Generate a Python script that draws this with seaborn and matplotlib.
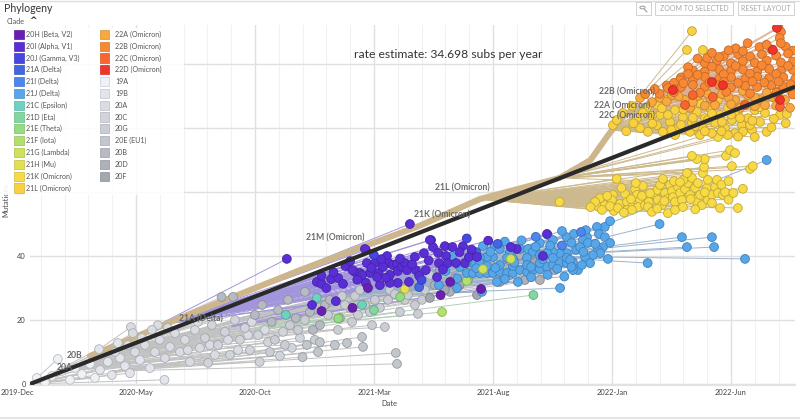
import matplotlib
matplotlib.use("Agg")
import matplotlib.pyplot as plt
import matplotlib.colors as mcolors
from matplotlib.collections import LineCollection
from matplotlib.patches import Rectangle, Circle
from matplotlib.lines import Line2D
import seaborn as sns
import pandas as pd

sns.set_style("white")
plt.rcParams["font.family"] = ["Lato", "DejaVu Sans"]

# ---------------- data (x = months since 2019-12-01, y = mutations) ----------------
month_ticks = [5, 10, 15, 20, 25, 30]
month_labels = ["2020-May", "2020-Oct", "2021-Mar", "2021-Aug", "2022-Jan", "2022-Jun"]
first_tick = 0
first_label = "2019-Dec"
mut_ticks = [0, 20, 40, 60, 80, 100]

rate_x = [0.55, 32.69]
rate_y = [0.0, 92.9]
rate_text = "rate estimate: 34.698 subs per year"

trunk_x = [3.07, 6.85, 11.9, 16.9, 19.45, 22.8, 24.1, 24.9, 25.55, 26.6]
trunk_y = [8.75, 20.6, 35.6, 49.4, 57.8, 64.4, 70.0, 78.4, 84.1, 87.8]

tips_19A = [(0.84, 1.9), (1.18, 0.6), (1.47, 2.5), (1.72, 7.8), (1.89, 4.1), (2.23, 1.3),
            (2.44, 5.0), (2.73, 3.1), (3.07, 6.3), (3.28, 1.9)]
tips_19B = [(3.45, 10.9), (3.49, 4.4), (3.82, 6.9), (3.99, 2.8), (4.24, 12.8), (4.33, 8.1),
            (4.54, 5.6), (4.75, 3.4), (5.17, 7.5), (5.59, 5.0), (6.2, 1.3)]
tips_20A = [(4.79, 17.8), (4.87, 15.9), (4.96, 10.0), (5.38, 12.2), (5.8, 10.0), (5.92, 18.4),
            (6.0, 13.8), (6.22, 8.1), (6.43, 11.6), (6.64, 15.9), (6.85, 10.0), (7.06, 13.8),
            (7.27, 6.9), (7.48, 16.9), (7.69, 11.3)]
tips_20A2 = [(4.12, 10.0), (4.66, 12.2), (5.25, 14.4), (5.67, 16.9), (6.34, 17.5), (7.18, 10.6),
             (7.6, 19.4), (8.11, 12.2), (8.32, 9.1), (8.87, 13.8), (9.29, 10.6), (9.71, 15.3),
             (9.87, 19.4), (10.42, 16.9)]
tips_20C = [(7.9, 14.4), (8.03, 6.6), (8.19, 18.4), (8.45, 12.2), (8.74, 16.3), (8.95, 9.1),
            (9.16, 20.0), (9.37, 13.8), (9.58, 17.5), (9.79, 10.6), (10.13, 15.3), (10.55, 13.1),
            (11.18, 16.3), (11.55, 11.3), (11.89, 14.4), (10.2, 6.9), (11.05, 8.8)]
tips_20B = [(8.6, 27.2), (9.08, 27.2), (10.0, 21.6), (10.3, 24.7), (10.7, 19.4), (10.97, 23.1),
            (11.39, 26.3), (11.72, 20.6), (12.1, 28.8), (12.31, 22.5), (12.44, 16.9), (12.73, 18.4),
            (12.94, 24.7), (13.15, 26.3), (13.57, 20.6)]
tips_20G = [(13.66, 27.5), (13.99, 23.8), (14.2, 27.5), (14.41, 29.4), (14.62, 24.7), (15.04, 26.3),
            (15.25, 23.8), (15.46, 17.8), (15.67, 29.4), (15.88, 28.1), (16.3, 26.3), (16.51, 31.6),
            (16.85, 21.9), (17.14, 29.4), (17.35, 34.1)]
tips_20G2 = [(10.63, 10.0), (10.84, 13.8), (11.26, 12.2), (11.47, 18.4), (11.81, 16.9), (12.1, 20.0),
             (12.52, 13.8), (13.07, 21.6), (13.49, 16.9), (13.78, 24.7), (14.08, 19.4), (14.33, 21.6),
             (14.83, 22.5), (14.92, 18.4), (15.59, 26.3), (16.09, 22.5), (16.43, 27.8), (16.72, 24.7),
             (17.02, 26.3)]
tips_20E = [(12.18, 12.2), (12.65, 10.0), (13.36, 12.2), (13.87, 12.8), (14.5, 14.7), (14.54, 11.6),
            (15.92, 9.7), (15.97, 6.3), (12.0, 8.4), (12.73, 13.1)]
tips_20D = [(17.77, 35.6), (18.4, 33.1), (19.03, 37.2), (19.87, 38.1), (20.5, 36.3), (21.13, 40.3)]
tips_20D2 = [(17.56, 30.9), (18.19, 28.8), (18.95, 32.5), (19.66, 35.6), (20.71, 34.1), (21.34, 32.5),
             (21.97, 32.5), (22.6, 35.6)]
tips_20F = [(21.76, 38.1), (22.39, 41.9), (17.98, 29.4), (18.6, 30.9), (20.29, 31.9), (17.35, 26.9),
            (19.33, 27.8)]

tips_20I = [(12.6, 31.9), (12.8, 31.3), (13.2, 32.8), (13.5, 33.1), (13.87, 36.9), (14.2, 35.0),
            (14.41, 34.7), (14.66, 41.9), (14.7, 37.8), (14.83, 34.7), (15.04, 37.8), (15.2, 34.7),
            (15.55, 40.0), (15.63, 37.8), (15.67, 34.1), (15.8, 37.2), (15.97, 37.5), (16.0, 35.3),
            (16.18, 36.6), (16.3, 37.8), (16.39, 35.6), (16.72, 39.7), (16.76, 35.6), (17.1, 40.9),
            (17.18, 35.6), (17.4, 45.0), (17.48, 42.8), (17.65, 33.4), (17.73, 37.8), (17.98, 43.1),
            (18.03, 40.0), (18.1, 37.8), (18.3, 42.8), (18.45, 37.8), (18.74, 43.1), (18.82, 37.8),
            (18.99, 39.7), (19.33, 39.7), (16.47, 31.9), (16.0, 31.6), (15.67, 31.6), (15.25, 30.9),
            (15.13, 33.4), (14.5, 34.1), (14.66, 31.6), (15.38, 36.6), (11.34, 39.1), (14.62, 42.2),
            (16.51, 50.0), (17.35, 45.0), (12.8, 33.8), (13.8, 36.9), (14.1, 35.6), (22.27, 46.9),
            (22.1, 40.0), (21.0, 42.2), (20.75, 42.8), (13.4, 25.9), (12.4, 24.7),
            (13.0, 30.0), (13.7, 31.3), (14.3, 32.6), (14.9, 36.3), (15.5, 33.2), (16.1, 39.2),
            (16.6, 37.4), (16.9, 33.8), (17.3, 38.6), (17.9, 35.8), (18.6, 41.2), (17.7, 41.0),
            (15.3, 39.0), (14.0, 38.4), (13.3, 34.9), (19.1, 42.0), (19.8, 44.8)]
tips_20H = [(14.75, 30.0), (14.1, 23.8), (12.8, 22.8), (17.8, 27.8), (19.5, 29.7), (18.2, 31.9)]
tips_20J = [(15.0, 40.3), (18.9, 45.5), (17.0, 32.5)]
tips_21A = [(20.2, 43.8), (19.3, 41.2), (16.9, 30.3)]
tips_21I = [(21.8, 46.0), (22.9, 43.3), (23.7, 47.5)]
tips_21C = [(12.6, 26.9), (14.5, 24.7), (11.3, 21.6)]
tips_21D = [(21.7, 27.8), (15.0, 23.1)]
tips_21E = [(13.5, 20.5), (16.1, 27.2)]
tips_21F = [(17.86, 22.5), (18.9, 32.2)]
tips_21G = [(20.75, 39.1), (19.58, 35.9)]
tips_21H = [(16.3, 29.7), (22.0, 37.0)]

tips_21J = [(18.28, 40.0), (19.58, 43.1), (20.08, 43.1), (20.29, 42.2), (20.71, 41.3), (21.13, 42.2),
            (21.47, 42.2), (21.68, 41.3), (21.97, 44.1), (22.3, 46.6), (22.52, 45.0), (23.1, 45.9),
            (23.3, 44.1), (23.5, 41.9), (23.57, 35.6), (23.36, 35.6), (23.1, 40.9), (22.8, 40.9),
            (22.52, 41.3), (22.27, 40.9), (21.97, 40.3), (21.43, 39.4), (20.84, 39.1), (20.59, 39.4),
            (20.0, 39.7), (19.75, 39.7), (19.45, 39.4), (19.16, 37.8), (18.9, 37.8), (18.61, 36.6),
            (18.9, 34.7), (19.16, 34.7), (19.45, 34.7), (19.75, 34.7), (20.0, 34.7), (20.29, 35.0),
            (20.59, 34.7), (20.84, 34.7), (21.13, 35.6), (21.43, 35.0), (21.68, 35.6), (21.97, 35.9),
            (22.27, 36.6), (22.52, 37.2), (22.8, 37.8), (23.1, 37.8), (23.36, 38.1), (19.45, 37.8),
            (19.75, 36.9), (20.29, 37.2), (20.84, 36.9), (21.43, 37.2), (21.97, 37.8), (22.52, 39.4),
            (23.1, 39.4), (20.17, 31.9), (21.05, 31.9), (19.54, 28.8), (18.49, 30.0), (22.82, 30.0),
            (17.73, 30.9), (24.7, 49.1), (24.37, 49.1), (24.45, 46.9), (24.7, 45.9), (24.92, 44.1),
            (24.62, 42.8), (24.41, 41.9), (24.5, 40.9), (24.2, 40.3), (23.95, 45.9), (23.78, 45.0),
            (23.99, 44.1), (23.66, 42.8), (23.87, 39.7), (24.08, 37.8), (23.74, 37.2), (23.24, 38.8),
            (19.1, 41.0), (19.9, 41.3), (20.5, 44.5), (21.2, 44.9), (21.8, 42.9), (22.4, 43.3),
            (22.9, 47.8), (23.4, 46.9), (23.9, 48.1), (19.3, 36.2), (20.1, 36.3), (20.9, 37.9),
            (21.6, 36.6), (22.1, 39.0), (22.7, 36.0), (23.3, 36.6), (23.8, 41.3), (24.3, 43.8),
            (20.5, 32.8), (21.6, 33.4), (22.3, 34.1), (23.0, 33.6), (18.0, 35.3), (18.5, 33.0)]
tips_21J_far = [(24.92, 50.9), (27.0, 50.0), (27.94, 45.9), (29.2, 45.9), (28.15, 42.8), (29.29, 42.8),
                (30.59, 39.1), (31.5, 70.0), (26.5, 37.8), (24.83, 39.1)]

tips_21K = [(24.45, 55.3), (24.7, 55.9), (25.04, 59.1), (25.0, 57.5), (25.2, 64.1), (25.08, 54.1),
            (25.34, 56.3), (25.55, 59.4), (25.63, 56.9), (25.84, 55.3), (25.97, 60.9), (26.05, 59.1),
            (26.18, 57.5), (26.1, 55.3), (26.39, 55.9), (26.47, 58.1), (26.55, 56.9), (26.8, 59.1),
            (26.9, 60.6), (26.93, 57.5), (27.02, 62.2), (27.1, 55.9), (27.14, 64.1), (27.23, 59.7),
            (27.31, 57.8), (27.35, 53.4), (27.44, 62.2), (27.52, 60.3), (27.56, 58.4), (27.65, 56.9),
            (27.65, 54.4), (27.77, 61.6), (27.86, 59.7), (27.94, 57.5), (27.98, 55.3), (28.07, 60.9),
            (28.19, 62.8), (28.19, 65.9), (28.28, 59.1), (28.36, 64.4), (28.49, 61.3), (28.57, 56.9),
            (28.61, 62.8), (28.7, 59.1), (28.78, 55.9), (28.82, 65.9), (28.87, 67.8), (28.99, 61.3),
            (29.03, 63.8), (29.03, 57.5), (29.2, 59.1), (29.33, 61.6), (29.41, 63.8), (29.45, 59.7),
            (29.66, 59.1), (29.75, 60.0), (29.54, 55.0), (30.29, 55.0), (24.5, 58.1), (24.29, 56.9),
            (24.58, 54.4), (24.92, 55.6), (25.25, 55.0), (25.63, 54.4), (25.84, 54.4), (26.51, 55.3),
            (26.68, 53.8), (26.26, 58.8), (22.8, 56.9),
            (24.8, 58.8), (25.4, 61.3), (25.8, 57.8), (26.3, 61.9), (26.6, 59.6), (26.9, 54.8),
            (27.2, 57.2), (27.6, 63.4), (28.0, 63.8), (28.3, 57.8), (28.5, 54.6), (28.9, 59.9),
            (29.2, 56.6), (29.6, 62.3), (29.9, 57.6), (30.1, 59.7), (30.5, 61.0), (29.9, 63.4),
            (26.0, 62.8), (25.5, 53.6), (24.1, 55.3)]
tips_21K_up = [(30.04, 68.1), (29.79, 71.3), (29.96, 73.1), (30.17, 72.2), (30.8, 67.2), (30.92, 68.1),
               (28.9, 70.3), (28.57, 70.3), (28.36, 71.3), (28.15, 65.9), (27.86, 63.1), (29.45, 77.2),
               (30.29, 78.1), (29.66, 79.4)]

tips_21L = [(25.04, 80.9), (25.2, 82.5), (25.46, 84.7), (26.05, 83.1), (26.47, 86.3), (26.51, 78.8),
            (26.89, 80.9), (26.89, 87.2), (27.02, 84.1), (27.14, 78.8), (27.31, 88.8), (27.44, 81.9),
            (27.65, 85.6), (27.77, 80.0), (27.98, 83.4), (28.15, 87.5), (28.28, 78.8), (28.36, 81.6),
            (28.57, 85.0), (28.7, 87.8), (28.82, 80.0), (28.91, 83.1), (29.12, 86.3), (29.2, 78.4),
            (29.33, 81.6), (29.45, 88.8), (29.54, 84.1), (29.75, 80.0), (29.87, 86.3), (30.04, 82.5),
            (30.17, 78.4), (30.29, 85.0), (30.46, 80.9), (30.59, 87.5), (30.71, 83.1), (30.88, 79.4),
            (31.0, 85.6), (31.22, 81.9), (31.43, 84.7), (31.5, 78.8), (32.06, 84.1), (32.35, 84.4),
            (26.18, 80.0), (25.84, 86.9), (26.68, 83.8), (27.35, 84.1), (28.49, 80.6), (29.03, 82.5),
            (29.62, 81.9), (30.38, 83.1), (30.8, 80.9), (29.87, 77.8), (28.7, 77.8), (27.65, 77.8),
            (25.6, 79.0), (25.9, 81.5), (26.3, 84.8), (26.7, 81.4), (27.1, 86.2), (27.5, 79.4),
            (27.9, 81.0), (28.0, 85.8), (28.4, 83.2), (28.9, 79.0), (29.2, 84.5), (29.6, 79.0),
            (30.0, 84.2), (30.5, 78.9), (30.9, 82.3), (31.2, 86.5), (31.7, 80.2), (31.8, 82.9),
            (32.3, 81.5), (31.0, 77.2), (30.3, 77.3)]
tips_21L_far = [(28.36, 110.3), (28.15, 104.4), (28.82, 104.4)]

tips_22A = [(27.02, 89.4), (27.52, 90.3), (28.07, 88.8), (28.61, 90.0), (29.12, 89.4), (29.62, 90.6),
            (30.17, 88.8), (30.71, 90.3), (31.22, 88.8), (31.72, 89.7), (32.27, 88.8), (28.28, 86.3),
            (30.38, 86.3), (31.43, 87.2), (32.48, 86.3), (29.33, 87.2), (31.97, 91.3), (26.68, 88.1),
            (26.18, 89.4), (27.3, 88.3), (27.8, 89.9), (28.4, 88.1), (29.0, 90.8), (29.9, 89.6),
            (30.5, 91.6), (31.0, 89.6), (31.5, 91.0), (32.0, 89.6), (32.5, 91.8), (28.9, 87.0),
            (30.0, 87.4), (31.0, 86.8), (31.9, 87.0)]

tips_22B = [(31.2, 105.3), (31.7, 104.6), (32.3, 105.4), (32.6, 104.2),
            (29.7, 102.5), (30.3, 103.1), (30.8, 102.4), (31.3, 103.0), (31.9, 102.6), (32.4, 103.3),
            (28.9, 100.3), (29.4, 101.0), (30.0, 100.2), (30.5, 100.9), (31.0, 100.4), (31.5, 101.1),
            (32.1, 100.5), (32.6, 100.8),
            (28.4, 98.0), (28.9, 97.6), (29.5, 98.4), (30.0, 97.8), (30.5, 98.3), (31.1, 97.7),
            (31.6, 98.5), (32.1, 97.9), (32.6, 98.2),
            (27.9, 95.8), (28.4, 95.2), (28.9, 96.0), (29.5, 95.4), (30.0, 95.9), (30.6, 95.3),
            (31.1, 96.1), (31.6, 95.5), (32.2, 95.9), (32.7, 95.4),
            (27.3, 93.3), (27.9, 92.8), (28.4, 93.5), (28.9, 92.9), (29.5, 93.4), (30.0, 92.7),
            (30.6, 93.2), (31.1, 92.8), (31.7, 93.4), (32.2, 92.9),
            (27.0, 90.7), (27.6, 91.2), (28.7, 91.0), (29.8, 91.3), (30.8, 90.8), (31.9, 91.1),
            (32.6, 90.5), (32.0, 111.3), (32.1, 110.0), (32.05, 108.1), (29.0, 101.9), (29.5, 102.2),
            (27.86, 95.0), (27.6, 94.1), (27.35, 92.5), (26.4, 90.6), (26.8, 92.2), (30.7, 106.5),
            (30.2, 104.9),
            (28.2, 99.0), (28.6, 96.6), (29.2, 99.2), (29.7, 96.8), (30.2, 99.4), (30.8, 97.0),
            (31.3, 99.6), (31.9, 96.9), (32.4, 99.4), (29.1, 94.2), (29.7, 94.4), (30.3, 94.1),
            (30.9, 94.6), (31.4, 94.2), (32.0, 94.5), (32.5, 93.7), (29.9, 104.3), (30.5, 104.0),
            (31.5, 106.0), (32.1, 106.5), (29.2, 103.5), (28.6, 101.7), (28.2, 96.9), (28.0, 94.0),
            (27.6, 92.2)]
tips_22C = [(28.4, 90.3), (29.24, 89.7), (28.07, 87.2), (32.06, 86.6), (30.59, 87.2)]
tips_22D = [(27.56, 91.9), (31.76, 104.4), (32.06, 88.8), (29.66, 93.4), (29.2, 94.4), (31.93, 111.3)]

# parent node of each group of tips
par_root = (0.55, 0.0)
par_20A_node = (2.2, 4.4)
par_20B_node = (3.0, 8.5)
par_20G_node = (6.0, 14.0)
par_20E_node = (4.0, 4.0)
par_20D_node = (9.0, 20.0)
par_20F_node = (9.0, 18.0)
par_alpha = (5.95, 18.5)
par_beta = (9.0, 18.0)
par_gamma = (7.5, 20.0)
par_delta = (13.0, 27.0)
par_delta_far = (21.5, 40.0)
par_minor = (10.0, 17.0)
par_21K = (19.45, 57.8)
par_21K_up = (22.8, 64.4)
par_21L = (24.9, 79.4)
par_21L_far = (25.55, 84.1)
par_22A = (25.55, 84.1)
par_22B = (26.6, 87.8)
par_22C = (26.0, 86.0)

clade_colors = {
    "20H (Beta, V2)": "#6A1FB3", "20I (Alpha, V1)": "#5A2ED6", "20J (Gamma, V3)": "#4646E0",
    "21A (Delta)": "#4566E0", "21I (Delta)": "#4C86EE", "21J (Delta)": "#56A6EA",
    "21C (Epsilon)": "#6FD2C0", "21D (Eta)": "#80D8A0", "21E (Theta)": "#92DC82",
    "21F (Iota)": "#B2E06C", "21G (Lambda)": "#CDE256", "21H (Mu)": "#E2E050",
    "21K (Omicron)": "#F7DA45", "21L (Omicron)": "#F8D040",
    "22A (Omicron)": "#F9A83F", "22B (Omicron)": "#F98835", "22C (Omicron)": "#F96431",
    "22D (Omicron)": "#F2332A",
    "19A": "#EEF2F6", "19B": "#E2E6EC", "20A": "#D9DDE3", "20C": "#D1D5DB", "20G": "#CACED4",
    "20E (EU1)": "#C2C6CD", "20B": "#B6BAC2", "20D": "#ADB1B9", "20F": "#A3A7B0",
}
legend_col1 = ["20H (Beta, V2)", "20I (Alpha, V1)", "20J (Gamma, V3)", "21A (Delta)", "21I (Delta)",
               "21J (Delta)", "21C (Epsilon)", "21D (Eta)", "21E (Theta)", "21F (Iota)",
               "21G (Lambda)", "21H (Mu)", "21K (Omicron)", "21L (Omicron)"]
legend_col2 = ["22A (Omicron)", "22B (Omicron)", "22C (Omicron)", "22D (Omicron)", "19A", "19B",
               "20A", "20C", "20G", "20E (EU1)", "20B", "20D", "20F"]

branch_gray = "#C2C2C2"
branch_purple = "#A295DC"
branch_blue = "#9CB2CC"
branch_green = "#B2D0B6"
branch_tan = "#CDB98E"
branch_orange = "#DAAF92"

# draw order: (clade, tips, parent, branch colour)
groups = [
    ("19A", tips_19A, par_root, branch_gray),
    ("19B", tips_19B, par_root, branch_gray),
    ("20A", tips_20A, par_20A_node, branch_gray),
    ("20A", tips_20A2, par_20A_node, branch_gray),
    ("20C", tips_20C, par_20A_node, branch_gray),
    ("20B", tips_20B, par_20B_node, branch_gray),
    ("20G", tips_20G, par_20G_node, branch_gray),
    ("20G", tips_20G2, par_20B_node, branch_gray),
    ("20E (EU1)", tips_20E, par_20E_node, branch_gray),
    ("20D", tips_20D, par_20D_node, branch_gray),
    ("20D", tips_20D2, par_20D_node, branch_gray),
    ("20F", tips_20F, par_20F_node, branch_gray),
    ("21C (Epsilon)", tips_21C, par_minor, branch_green),
    ("21D (Eta)", tips_21D, par_minor, branch_green),
    ("21E (Theta)", tips_21E, par_minor, branch_green),
    ("21F (Iota)", tips_21F, par_minor, branch_green),
    ("21H (Mu)", tips_21H, par_minor, branch_green),
    ("21J (Delta)", tips_21J, par_delta, branch_blue),
    ("21J (Delta)", tips_21J_far, par_delta_far, branch_blue),
    ("21A (Delta)", tips_21A, par_delta, branch_blue),
    ("21I (Delta)", tips_21I, par_delta, branch_blue),
    ("21G (Lambda)", tips_21G, par_delta, branch_green),
    ("20I (Alpha, V1)", tips_20I, par_alpha, branch_purple),
    ("20H (Beta, V2)", tips_20H, par_beta, branch_purple),
    ("20J (Gamma, V3)", tips_20J, par_gamma, branch_purple),
    ("21K (Omicron)", tips_21K, par_21K, branch_tan),
    ("21K (Omicron)", tips_21K_up, par_21K_up, branch_tan),
    ("21L (Omicron)", tips_21L, par_21L, branch_tan),
    ("21L (Omicron)", tips_21L_far, par_21L_far, branch_tan),
    ("22A (Omicron)", tips_22A, par_22A, branch_orange),
    ("22B (Omicron)", tips_22B, par_22B, branch_orange),
    ("22C (Omicron)", tips_22C, par_22C, branch_orange),
    ("22D (Omicron)", tips_22D, par_22C, branch_orange),
]

clade_labels = ["22B (Omicron)", "22A (Omicron)", "22C (Omicron)", "21L (Omicron)",
                "21K (Omicron)", "21M (Omicron)", "21A (Delta)", "20B", "20A"]
clade_label_x = [26.8, 26.6, 26.8, 19.87, 19.03, 14.62, 8.66, 2.75, 2.35]
clade_label_y = [91.3, 86.9, 83.8, 61.3, 52.8, 45.6, 20.3, 8.8, 5.3]

# ---------------- figure ----------------
W, H = 800, 420
fig = plt.figure(figsize=(8.0, 4.2), dpi=100)
fig.patch.set_facecolor("white")


def fx(px):
    return px / W


def fy(py):
    return 1 - py / H


ax = fig.add_axes([fx(30), fy(385), fx(795) - fx(30), fy(25) - fy(385)])
ax.set_xlim(0.55, 32.69)
ax.set_ylim(-0.31, 112.2)

# branches
segs, seg_cols = [], []
for clade, tips, par, bcol in groups:
    for t in tips:
        segs.append([par, t])
        seg_cols.append(bcol)
ax.add_collection(LineCollection(segs, colors=seg_cols, linewidths=0.7, zorder=2))

# omicron trunk
ax.plot(trunk_x, trunk_y, color="#CDB68B", lw=4.4, solid_capstyle="round",
        solid_joinstyle="round", zorder=2.5)

# tips
rows = []
for clade, tips, par, bcol in groups:
    for (mx, my) in tips:
        rows.append({"month": mx, "mutations": my, "clade": clade})
df = pd.DataFrame(rows)
sns.scatterplot(data=df, x="month", y="mutations", hue="clade", palette=clade_colors,
                s=40, linewidth=0.6, legend=False, ax=ax, zorder=4)


def darker(c, f=0.78):
    r, g, b = mcolors.to_rgb(c)
    return (r * f, g * f, b * f)


coll = ax.collections[-1]
coll.set_edgecolors([darker(clade_colors[c]) for c in df["clade"]])

# regression line
ax.plot(rate_x, rate_y, color="#2A2A2A", lw=3.0, solid_capstyle="butt", zorder=6)

# clade labels
for lab, lx, ly in zip(clade_labels, clade_label_x, clade_label_y):
    ax.text(lx, ly, lab, ha="right", va="center", fontsize=6.2, color="#6A6A6A",
            fontweight="bold", zorder=7)

# axes styling
ax.set_xticks(month_ticks)
ax.set_xticklabels(month_labels)
ax.set_xticks(list(range(1, 33)), minor=True)
ax.set_yticks(mut_ticks)
ax.set_yticklabels([str(v) for v in mut_ticks])
ax.tick_params(axis="both", which="both", length=0, labelsize=5.4, colors="#444444", pad=3)
ax.grid(which="major", axis="both", color="#E0E0E0", lw=1.0)
ax.grid(which="minor", axis="x", color="#F1F1F1", lw=0.8)
ax.set_axisbelow(True)
for side in ["left", "right", "top"]:
    ax.spines[side].set_visible(False)
ax.spines["bottom"].set_color("#E2E2E2")
ax.spines["bottom"].set_linewidth(1.5)
ax.set_xlabel("")
ax.set_ylabel("")
ax.annotate(first_label, xy=(first_tick, 0), xycoords=("data", "axes fraction"),
            xytext=(0, -3), textcoords="offset points", ha="center", va="top",
            fontsize=5.4, color="#444444", annotation_clip=False)

# texts around the plot
fig.text(fx(448), fy(55), rate_text, ha="center", va="center", fontsize=8.7, color="#333333")
fig.text(fx(389), fy(404), "Date", ha="center", va="center", fontsize=5.4, color="#444444")
fig.text(fx(6), fy(200), "Mutations", rotation=90, ha="center", va="center",
         fontsize=5.4, color="#444444", zorder=1)

# header
fig.add_artist(Line2D([0, 1], [fy(1), fy(1)], color="#DDDDDD", lw=1.0))
fig.text(fx(4), fy(9), "Phylogeny", ha="left", va="center", fontsize=7.6, color="#333333")
fig.text(fx(7), fy(21), "Clade", ha="left", va="center", fontsize=5.2, color="#555555")
fig.text(fx(29), fy(20.5), "^", ha="left", va="center", fontsize=6.5, color="#222222",
         fontweight="bold", family="DejaVu Sans")
fig.add_artist(Line2D([0, 1], [fy(418), fy(418)], color="#E4E4E4", lw=1.5))

# buttons
btn_edge = "#D2D2D2"
fig.add_artist(Rectangle((fx(636), fy(15)), fx(15), fy(2) - fy(15), facecolor="white",
                         edgecolor=btn_edge, lw=0.7))
fig.add_artist(Circle((fx(642.5), fy(7.5)), 2.6 / W, facecolor="none", edgecolor="#999999",
                      lw=0.7, transform=fig.transFigure))
fig.add_artist(Line2D([fx(644.5), fx(647)], [fy(9.5), fy(12)], color="#999999", lw=0.8))
fig.add_artist(Rectangle((fx(655), fy(15)), fx(78), fy(2) - fy(15), facecolor="white",
                         edgecolor=btn_edge, lw=0.7))
fig.text(fx(694), fy(8.7), "ZOOM TO SELECTED", ha="center", va="center", fontsize=5.0,
         color="#A8A8A8")
fig.add_artist(Rectangle((fx(738), fy(15)), fx(56), fy(2) - fy(15), facecolor="white",
                         edgecolor=btn_edge, lw=0.7))
fig.text(fx(766), fy(8.7), "RESET LAYOUT", ha="center", va="center", fontsize=5.0,
         color="#A8A8A8")

# legend box
fig.add_artist(Rectangle((0, fy(195)), fx(184), fy(28) - fy(195), facecolor="white",
                         edgecolor="none", alpha=0.9, zorder=5))
row0, step = 34.3, 11.82
for col_items, sx, tx in [(legend_col1, 14.5, 26), (legend_col2, 100, 115)]:
    for i, name in enumerate(col_items):
        yc = row0 + i * step
        col = clade_colors[name]
        fig.add_artist(Rectangle((fx(sx), fy(yc + 4.6)), fx(9.2), fy(yc - 4.6) - fy(yc + 4.6),
                                 facecolor=col, edgecolor=darker(col, 0.85), lw=0.5, zorder=6))
        fig.text(fx(tx), fy(yc), name, ha="left", va="center", fontsize=5.1, color="#555555",
                 zorder=6)

fig.savefig("out.png", dpi=100, facecolor="white")
